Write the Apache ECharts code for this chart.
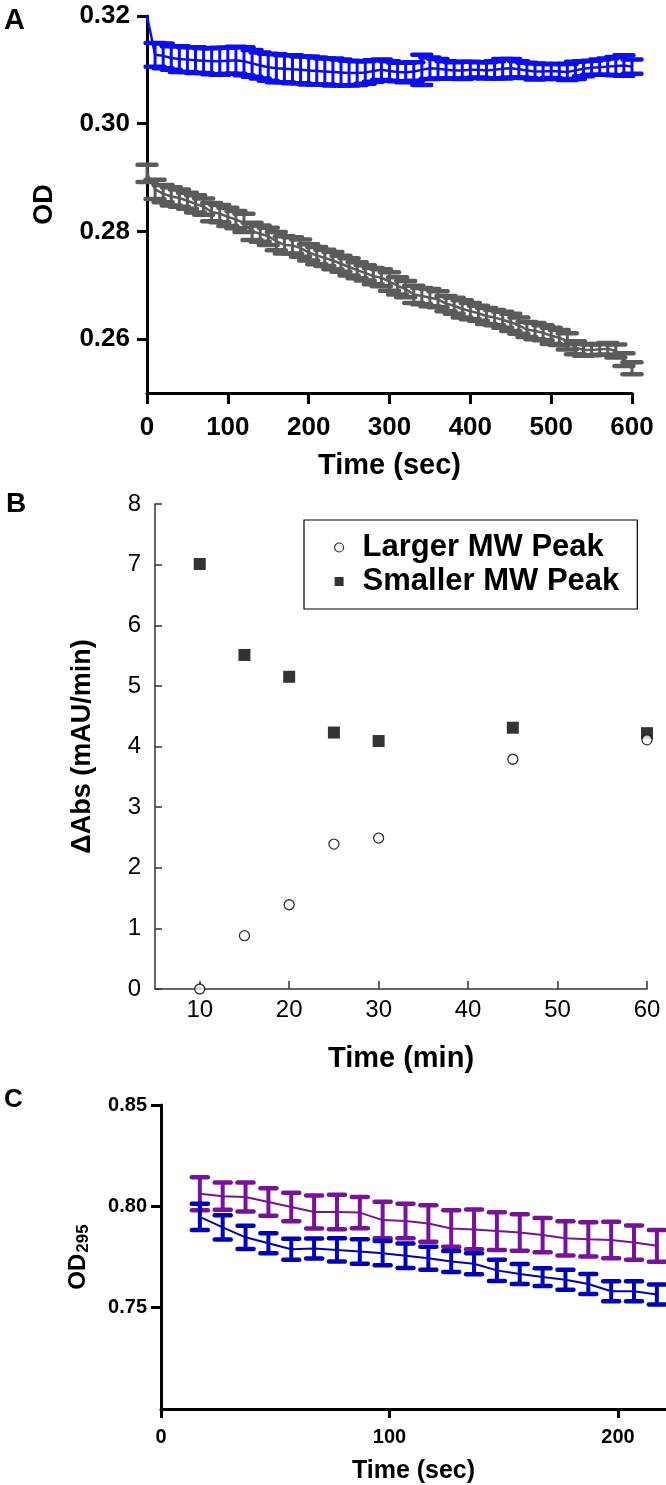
<!DOCTYPE html>
<html><head><meta charset="utf-8">
<script src="https://cdn.jsdelivr.net/npm/echarts@6/dist/echarts.min.js"></script>
<style>html,body{margin:0;padding:0;background:#fff}#c{width:666px;height:1485px}</style>
</head><body><div id="c"></div>
<script>
// ---------- Panel A ----------
const timeA = [0,10,20,30,40,50,60,70,80,90,100,110,120,130,140,150,160,170,180,190,200,210,220,230,240,250,260,270,280,290,300,310,320,330,340,350,360,370,380,390,400,410,420,430,440,450,460,470,480,490,500,510,520,530,540,550,560,570,580,590,600];
const blueMeanA = [0.3200,0.3128,0.3126,0.3122,0.3120,0.3119,0.3118,0.3117,0.3116,0.3116,
 0.3117,0.3118,0.3116,0.3112,0.3108,0.3105,0.3103,0.3102,0.3101,0.3100,
 0.3099,0.3098,0.3097,0.3096,0.3095,0.3094,0.3094,0.3095,0.3098,0.3100,
 0.3098,0.3096,0.3095,0.3097,0.3100,0.3103,0.3102,0.3100,0.3099,0.3099,
 0.3100,0.3100,0.3099,0.3100,0.3102,0.3103,0.3101,0.3099,0.3097,0.3097,
 0.3098,0.3097,0.3096,0.3099,0.3102,0.3104,0.3105,0.3106,0.3107,0.3108,0.3106];
const blueErrA = [0,0.0022,0.0023,0.0022,0.0024,0.0023,0.0024,0.0023,0.0024,0.0025,
 0.0024,0.0025,0.0026,0.0025,0.0024,0.0025,0.0026,0.0025,0.0026,0.0025,
 0.0026,0.0025,0.0024,0.0025,0.0024,0.0023,0.0022,0.0021,0.0020,0.0019,
 0.0018,0.0017,0.0018,0.0017,0.0028,0.0020,0.0018,0.0016,0.0015,0.0016,
 0.0015,0.0014,0.0015,0.0016,0.0018,0.0017,0.0015,0.0014,0.0015,0.0014,
 0.0013,0.0014,0.0015,0.0016,0.0014,0.0013,0.0014,0.0015,0.0017,0.0019,0.0013];
const grayMeanA = [0.2908,0.2878,0.2870,0.2865,0.2862,0.2857,0.2851,0.2846,0.2836,0.2833,
 0.2827,0.2822,0.2816,0.2800,0.2796,0.2791,0.2782,0.2775,0.2774,0.2769,
 0.2761,0.2755,0.2751,0.2746,0.2740,0.2734,0.2728,0.2723,0.2717,0.2714,
 0.2707,0.2699,0.2693,0.2683,0.2680,0.2677,0.2674,0.2666,0.2662,0.2656,
 0.2652,0.2648,0.2643,0.2640,0.2636,0.2631,0.2625,0.2618,0.2615,0.2612,
 0.2606,0.2603,0.2596,0.2584,0.2580,0.2580,0.2581,0.2582,0.2578,0.2562,0.2546];
const grayErrA = [0.0016,0.0018,0.0016,0.0017,0.0016,0.0015,0.0016,0.0015,0.0017,0.0016,
 0.0017,0.0016,0.0017,0.0016,0.0015,0.0016,0.0017,0.0016,0.0015,0.0016,
 0.0015,0.0016,0.0015,0.0016,0.0015,0.0016,0.0015,0.0014,0.0015,0.0016,
 0.0017,0.0016,0.0015,0.0016,0.0015,0.0016,0.0015,0.0014,0.0015,0.0016,
 0.0015,0.0014,0.0015,0.0014,0.0015,0.0016,0.0015,0.0014,0.0015,0.0014,
 0.0015,0.0014,0.0015,0.0012,0.0011,0.0010,0.0010,0.0011,0.0012,0.0012,0.0011];
const yTicksA = [0.26,0.28,0.30,0.32];
const xTicksA = [0,100,200,300,400,500,600];

// ---------- Panel B ----------
const timeB = [10,15,20,25,30,45,60];
const largerB = [0.00,0.88,1.39,2.39,2.49,3.79,4.11];
const smallerB = [7.01,5.51,5.15,4.23,4.09,4.31,4.22];
const xTicksB = [10,20,30,40,50,60];

// ---------- Panel C ----------
const timeC = [17,27,37,47,57,67,77,87,97,107,117,127,137,147,157,167,177,187,197,207,217];
const purpleMeanC = [0.8062,0.8050,0.8046,0.8021,0.7997,0.7972,0.7972,0.7969,0.7932,0.7928,0.7915,0.7891,0.7886,0.7878,0.7871,0.7858,0.7842,0.7837,0.7834,0.7821,0.7805];
const purpleErrC = [0.0081,0.0067,0.0072,0.0068,0.0070,0.0081,0.0085,0.0077,0.0090,0.0085,0.0090,0.0090,0.0098,0.0093,0.0090,0.0085,0.0085,0.0085,0.0090,0.0085,0.0078];
const blueMeanC = [0.7948,0.7896,0.7847,0.7818,0.7788,0.7792,0.7785,0.7777,0.7769,0.7756,0.7744,0.7728,0.7717,0.7684,0.7666,0.7651,0.7638,0.7617,0.7581,0.7581,0.7565];
const blueErrC = [0.0065,0.0060,0.0057,0.0049,0.0052,0.0049,0.0057,0.0060,0.0060,0.0060,0.0057,0.0052,0.0052,0.0052,0.0049,0.0044,0.0049,0.0049,0.0049,0.0049,0.0049];
const yTicksC = [0.75,0.80,0.85];
const xTicksC = [0,100,200];

const ARIAL = '"Liberation Sans", Arial, sans-serif';

function errBars(color, capW, lw, capLw) {
  return function (params, api) {
    const x = api.value(0), m = api.value(1), e = api.value(2);
    if (!e) return null;
    const lo = api.coord([x, m - e]), hi = api.coord([x, m + e]);
    const style = { stroke: color, lineWidth: lw, fill: null };
    const capStyle = { stroke: color, lineWidth: capLw, fill: null, lineCap: 'round' };
    return { type: 'group', children: [
      { type: 'line', shape: { x1: lo[0], y1: lo[1], x2: hi[0], y2: hi[1] }, style: style },
      { type: 'line', shape: { x1: hi[0] - capW / 2, y1: hi[1], x2: hi[0] + capW / 2, y2: hi[1] }, style: capStyle },
      { type: 'line', shape: { x1: lo[0] - capW / 2, y1: lo[1], x2: lo[0] + capW / 2, y2: lo[1] }, style: capStyle }
    ]};
  };
}
function triples(t, m, e) { return t.map((v, i) => [v, m[i], e[i]]); }
function pairs(t, m) { return t.map((v, i) => [v, m[i]]); }

const boldAxis = (w) => ({ show: true, lineStyle: { color: '#000', width: w } });

const option = {
  animation: false,
  backgroundColor: '#fff',
  grid: [
    { left: 147, top: 16, width: 485, height: 377, containLabel: false, outerBoundsMode: 'none' },
    { left: 155, top: 504, width: 492, height: 485, containLabel: false, outerBoundsMode: 'none' },
    { left: 161, top: 1105, width: 505, height: 304, containLabel: false, outerBoundsMode: 'none' }
  ],
  xAxis: [
    { gridIndex: 0, type: 'value', min: 0, max: 600, interval: 100,
      axisLine: boldAxis(3), splitLine: { show: false },
      axisTick: { show: true, inside: false, length: 11, lineStyle: { width: 3, color: '#000' }, customValues: xTicksA },
      axisLabel: { customValues: xTicksA, margin: 22, fontSize: 26, fontWeight: 'bold', color: '#000', fontFamily: ARIAL },
      name: 'Time (sec)', nameLocation: 'middle', nameGap: 58,
      nameTextStyle: { fontSize: 29, fontWeight: 'bold', color: '#000', fontFamily: ARIAL } },
    { gridIndex: 1, type: 'value', min: 5, max: 60,
      axisLine: { show: true, lineStyle: { color: '#333', width: 1.5 } }, splitLine: { show: false },
      axisTick: { show: true, inside: true, length: 8, lineStyle: { width: 1.5, color: '#333' }, customValues: xTicksB },
      axisLabel: { customValues: xTicksB, margin: 9, fontSize: 24, color: '#000', fontFamily: ARIAL },
      name: 'Time (min)', nameLocation: 'middle', nameGap: 55,
      nameTextStyle: { fontSize: 29, fontWeight: 'bold', color: '#000', fontFamily: ARIAL } },
    { gridIndex: 2, type: 'value', min: 0, max: 221,
      axisLine: boldAxis(3), splitLine: { show: false },
      axisTick: { show: true, inside: false, length: 9, lineStyle: { width: 3, color: '#000' }, customValues: xTicksC },
      axisLabel: { customValues: xTicksC, margin: 18, fontSize: 20, fontWeight: 'bold', color: '#000', fontFamily: ARIAL },
      name: 'Time (sec)', nameLocation: 'middle', nameGap: 50,
      nameTextStyle: { fontSize: 25, fontWeight: 'bold', color: '#000', fontFamily: ARIAL } }
  ],
  yAxis: [
    { gridIndex: 0, type: 'value', min: 0.25, max: 0.32,
      axisLine: boldAxis(3), splitLine: { show: false },
      axisTick: { show: true, inside: false, length: 10, lineStyle: { width: 3, color: '#000' }, customValues: yTicksA },
      axisLabel: { customValues: yTicksA, margin: 17, fontSize: 26, fontWeight: 'bold', color: '#000', fontFamily: ARIAL,
        formatter: (v) => v.toFixed(2) },
      name: 'OD', nameLocation: 'middle', nameGap: 89,
      nameTextStyle: { fontSize: 27, fontWeight: 'bold', color: '#000', fontFamily: ARIAL } },
    { gridIndex: 1, type: 'value', min: 0, max: 8, interval: 1,
      axisLine: { show: true, lineStyle: { color: '#333', width: 1.5 } }, splitLine: { show: false },
      axisTick: { show: true, inside: true, length: 7, lineStyle: { width: 1.5, color: '#333' } },
      axisLabel: { margin: 14, fontSize: 24, color: '#000', fontFamily: ARIAL },
      name: 'ΔAbs (mAU/min)', nameLocation: 'middle', nameGap: 59,
      nameTextStyle: { fontSize: 27, fontWeight: 'bold', color: '#000', fontFamily: ARIAL } },
    { gridIndex: 2, type: 'value', min: 0.70, max: 0.85,
      axisLine: boldAxis(3), splitLine: { show: false },
      axisTick: { show: true, inside: false, length: 10, lineStyle: { width: 3, color: '#000' }, customValues: yTicksC },
      axisLabel: { customValues: yTicksC, margin: 14, fontSize: 20, fontWeight: 'bold', color: '#000', fontFamily: ARIAL,
        formatter: (v) => v.toFixed(2) },
      name: '{m|OD}{s|295}', nameLocation: 'middle', nameGap: 69,
      nameTextStyle: { color: '#000', fontFamily: ARIAL,
        rich: { m: { fontSize: 24, fontWeight: 'bold', fontFamily: ARIAL, lineHeight: 26, verticalAlign: 'top', color: '#000' },
                s: { fontSize: 17, fontWeight: 'bold', fontFamily: ARIAL, lineHeight: 17, verticalAlign: 'bottom', color: '#000', padding: [0,0,0,1] } } } }
  ],
  legend: {
    show: true, orient: 'vertical', left: 304, top: 520,
    borderColor: '#000', borderWidth: 1.2, padding: [12, 18, 12, 30], itemGap: 3,
    itemWidth: 9, itemHeight: 9,
    textStyle: { fontSize: 31, fontWeight: 'bold', color: '#000', fontFamily: ARIAL, lineHeight: 30, padding: [0, 0, 0, 14] },
    data: [
      { name: 'Larger MW Peak', icon: 'circle', itemStyle: { color: '#fff', borderColor: '#000', borderWidth: 1.2 } },
      { name: 'Smaller MW Peak', icon: 'rect', itemStyle: { color: '#000' } }
    ]
  },
  graphic: [
    { type: 'text', left: 4, top: 6, style: { text: 'A', fontSize: 29, fontWeight: 'bold', fontFamily: ARIAL, fill: '#000' } },
    { type: 'text', left: 6, top: 490, style: { text: 'B', fontSize: 28, fontWeight: 'bold', fontFamily: ARIAL, fill: '#000' } },
    { type: 'text', left: 4, top: 1087, style: { text: 'C', fontSize: 26, fontWeight: 'bold', fontFamily: ARIAL, fill: '#000' } }
  ],
  series: [
    // Panel A
    { type: 'line', xAxisIndex: 0, yAxisIndex: 0, data: pairs(timeA, grayMeanA), showSymbol: false,
      lineStyle: { color: '#5b5b5b', width: 2.5 }, itemStyle: { color: '#5b5b5b' } },
    { type: 'custom', xAxisIndex: 0, yAxisIndex: 0, data: triples(timeA, grayMeanA, grayErrA),
      renderItem: errBars('#5b5b5b', 19, 3, 4.5), encode: { x: 0, y: 1 } },
    { type: 'line', xAxisIndex: 0, yAxisIndex: 0, data: pairs(timeA, blueMeanA), showSymbol: false,
      lineStyle: { color: '#0d0df2', width: 2.5 }, itemStyle: { color: '#0d0df2' } },
    { type: 'custom', xAxisIndex: 0, yAxisIndex: 0, data: triples(timeA, blueMeanA, blueErrA),
      renderItem: errBars('#0d0df2', 19, 3, 4.5), encode: { x: 0, y: 1 } },
    // Panel B
    { name: 'Smaller MW Peak', type: 'scatter', xAxisIndex: 1, yAxisIndex: 1, data: pairs(timeB, smallerB),
      symbol: 'rect', symbolSize: 12, itemStyle: { color: '#000' }, clip: false },
    { name: 'Larger MW Peak', type: 'scatter', xAxisIndex: 1, yAxisIndex: 1, data: pairs(timeB, largerB),
      symbol: 'circle', symbolSize: 10, itemStyle: { color: '#fff', borderColor: '#000', borderWidth: 1.3 }, clip: false },
    // Panel C
    { type: 'line', xAxisIndex: 2, yAxisIndex: 2, data: pairs(timeC, purpleMeanC), showSymbol: false,
      lineStyle: { color: '#78119b', width: 2 }, itemStyle: { color: '#78119b' } },
    { type: 'custom', xAxisIndex: 2, yAxisIndex: 2, data: triples(timeC, purpleMeanC, purpleErrC),
      renderItem: errBars('#78119b', 16, 4, 4.5), encode: { x: 0, y: 1 } },
    { type: 'line', xAxisIndex: 2, yAxisIndex: 2, data: pairs(timeC, blueMeanC), showSymbol: false,
      lineStyle: { color: '#0000b8', width: 2 }, itemStyle: { color: '#0000b8' } },
    { type: 'custom', xAxisIndex: 2, yAxisIndex: 2, data: triples(timeC, blueMeanC, blueErrC),
      renderItem: errBars('#0000b8', 16, 4, 4.5), encode: { x: 0, y: 1 } }
  ]
};
const chart = echarts.init(document.getElementById('c'), null, { renderer: 'canvas' });
chart.setOption(option);
</script>
</body></html>
